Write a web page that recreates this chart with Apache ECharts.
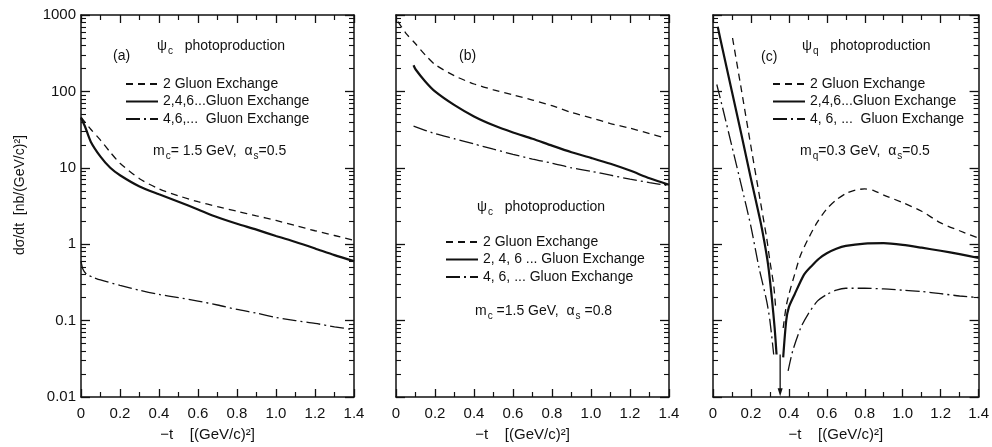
<!DOCTYPE html>
<html>
<head>
<meta charset="utf-8">
<script src="https://cdn.jsdelivr.net/npm/echarts@6/dist/echarts.min.js"></script>
<style>
  html, body { margin: 0; padding: 0; background: #fff; }
  #main { width: 992px; height: 447px; }
</style>
</head>
<body>
<div id="main"></div>
<script>
// values: [-t, dsigma/dt]
var aTwo = [[0,46],[0.05,32],[0.1,23],[0.15,16],[0.2,11.5],[0.3,7.2],[0.4,5.3],[0.5,4.3],[0.6,3.6],[0.7,3.1],[0.8,2.7],[0.9,2.35],[1.0,2.05],[1.1,1.75],[1.2,1.5],[1.3,1.3],[1.4,1.12]];
var aAll = [[0,45],[0.02,35],[0.05,22],[0.1,14],[0.15,10],[0.2,8],[0.3,5.7],[0.4,4.5],[0.5,3.6],[0.6,2.85],[0.7,2.25],[0.8,1.85],[0.9,1.55],[1.0,1.28],[1.1,1.07],[1.2,0.88],[1.3,0.72],[1.4,0.6]];
var aHigh = [[0,0.6],[0.01,0.47],[0.03,0.4],[0.06,0.37],[0.1,0.34],[0.2,0.29],[0.3,0.25],[0.4,0.22],[0.5,0.2],[0.6,0.18],[0.7,0.16],[0.8,0.14],[0.9,0.125],[1.0,0.11],[1.1,0.1],[1.2,0.092],[1.3,0.083],[1.4,0.076]];

var bTwo = [[0.01,820],[0.05,580],[0.1,420],[0.15,300],[0.2,225],[0.3,160],[0.4,125],[0.5,105],[0.6,90],[0.7,77],[0.8,65],[0.9,53],[1.0,45],[1.1,38],[1.2,33],[1.3,28],[1.37,25]];
var bAll = [[0.09,220],[0.1,195],[0.15,135],[0.2,100],[0.3,66],[0.4,47],[0.5,36],[0.6,29],[0.7,24],[0.8,19.5],[0.9,16],[1.0,13.5],[1.1,11.3],[1.2,9.2],[1.3,7.3],[1.4,6]];
var bHigh = [[0.09,35],[0.2,28],[0.3,24],[0.4,20.5],[0.5,17.5],[0.6,15],[0.7,13],[0.8,11.5],[0.9,10],[1.0,9],[1.1,8],[1.2,7.1],[1.3,6.4],[1.4,5.8]];

var cTwoLeft = [[0.103,500],[0.15,104],[0.2,19],[0.25,3.6],[0.283,1.2],[0.3,0.6],[0.32,0.29],[0.33,0.15]];
var cTwoRight = [[0.37,0.08],[0.385,0.15],[0.4,0.22],[0.43,0.4],[0.46,0.7],[0.5,1.15],[0.55,1.95],[0.6,2.9],[0.65,3.8],[0.7,4.6],[0.75,5.1],[0.8,5.3],[0.85,5.0],[0.9,4.4],[1.0,3.5],[1.1,2.7],[1.2,1.9],[1.3,1.5],[1.4,1.2]];
var cAllLeft = [[0.025,700],[0.05,362],[0.1,99],[0.15,27],[0.2,7.2],[0.25,2.0],[0.27,1.1],[0.29,0.55],[0.31,0.2],[0.325,0.08],[0.335,0.036]];
var cAllRight = [[0.37,0.033],[0.386,0.1],[0.4,0.15],[0.43,0.22],[0.48,0.4],[0.52,0.52],[0.56,0.65],[0.6,0.76],[0.65,0.87],[0.7,0.95],[0.8,1.02],[0.9,1.03],[1.0,0.98],[1.1,0.9],[1.2,0.82],[1.3,0.74],[1.4,0.66]];
var cHighLeft = [[0.02,123],[0.05,62],[0.1,19],[0.15,5.8],[0.2,1.7],[0.242,0.5],[0.283,0.18],[0.3,0.1],[0.32,0.036]];
var cHighRight = [[0.396,0.022],[0.42,0.04],[0.463,0.081],[0.5,0.12],[0.55,0.18],[0.6,0.22],[0.65,0.25],[0.7,0.265],[0.8,0.265],[0.9,0.26],[1.0,0.25],[1.1,0.24],[1.2,0.225],[1.3,0.21],[1.4,0.2]];
var cArrow = [[0.354,0.036],[0.354,0.0115]];

var decades = [0.01, 0.1, 1, 10, 100, 1000];
var minorVals = [];
decades.slice(0, 5).forEach(function(d){
  for (var k = 2; k <= 9; k++) minorVals.push(+(k * d).toPrecision(2));
});

var ink = '#111';
var font = 'Liberation Sans';
var panels = [{left: 81, width: 273}, {left: 396, width: 273}, {left: 713, width: 272}];

var grids = [], xAxes = [], yAxes = [];
panels.forEach(function(p, i){
  grids.push({left: p.left, top: 15, width: p.width, height: 385});
  var xBase = {
    type: 'value', gridIndex: i, min: 0, max: 1.4, interval: 0.2,
    axisLine: {lineStyle: {color: ink, width: 1.5}},
    axisTick: {inside: true, length: 8, lineStyle: {color: ink, width: 1.3}},
    minorTick: {show: true, splitNumber: 2, length: 5, lineStyle: {color: ink, width: 1.2}},
    splitLine: {show: false}
  };
  xAxes.push(Object.assign({}, xBase, {
    position: 'bottom',
    name: '−t    [(GeV/c)²]', nameLocation: 'middle', nameGap: 30,
    nameTextStyle: {color: ink, fontSize: 15, fontFamily: font, padding: [0, 20, 0, 0]},
    axisLabel: {color: ink, fontSize: 15, fontFamily: font, margin: 9,
      formatter: function(v){ return v === 0 ? '0' : v.toFixed(1); }}
  }));
  xAxes.push(Object.assign({}, xBase, {position: 'top', axisLabel: {show: false}}));

  var yBase = {
    type: 'log', logBase: 10, gridIndex: i, min: 0.01, max: 1000,
    axisLine: {show: true, lineStyle: {color: ink, width: 1.5}},
    axisTick: {inside: true, length: 9, lineStyle: {color: ink, width: 1.3}},
    axisLabel: {show: false},
    splitLine: {show: false}
  };
  var yMinor = Object.assign({}, yBase, {
    axisLine: {show: false},
    axisTick: {inside: true, length: 5, customValues: minorVals, lineStyle: {color: ink, width: 1.1}}
  });
  yAxes.push(Object.assign({}, yBase, {position: 'left',
    axisLabel: {show: i === 0, color: ink, fontSize: 15, fontFamily: font, margin: 5,
      formatter: function(v){ return String(+(+v).toPrecision(3)); }}}));
  yAxes.push(Object.assign({}, yMinor, {position: 'left'}));
  yAxes.push(Object.assign({}, yBase, {position: 'right'}));
  yAxes.push(Object.assign({}, yMinor, {position: 'right'}));
});

var styles = {
  two: {color: ink, width: 1.3, type: [7, 5]},
  all: {color: ink, width: 2.2, type: 'solid'},
  high: {color: ink, width: 1.3, type: [14, 4, 2, 4]}
};
function line(name, data, panel, kind){
  return {
    name: name, type: 'line', data: data,
    xAxisIndex: panel * 2, yAxisIndex: panel * 4,
    symbol: 'none', smooth: 0.25, silent: true,
    lineStyle: styles[kind], itemStyle: {color: ink}
  };
}
var n2 = '2 Gluon Exchange', nAll = '2,4,6...Gluon Exchange', nHigh = '4,6,...  Gluon Exchange';
var series = [
  line(n2, aTwo, 0, 'two'), line(nAll, aAll, 0, 'all'), line(nHigh, aHigh, 0, 'high'),
  line(n2, bTwo, 1, 'two'), line(nAll, bAll, 1, 'all'), line(nHigh, bHigh, 1, 'high'),
  line(n2, cTwoLeft, 2, 'two'), line(n2, cTwoRight, 2, 'two'),
  line(nAll, cAllLeft, 2, 'all'), line(nAll, cAllRight, 2, 'all'),
  line(nHigh, cHighLeft, 2, 'high'), line(nHigh, cHighRight, 2, 'high')
];
series.push({
  name: 'arrow', type: 'line', xAxisIndex: 4, yAxisIndex: 8, silent: true,
  data: [cArrow[0], {value: cArrow[1], symbol: 'triangle', symbolRotate: 180, symbolSize: [5, 8]}],
  symbol: 'none', showSymbol: true, lineStyle: {color: ink, width: 1.3}, itemStyle: {color: ink}
});

function legendAt(left, top, labels){
  return {
    left: left, top: top, orient: 'vertical', itemWidth: 32, itemHeight: 14, itemGap: 3.5,
    selectedMode: false, data: [n2, nAll, nHigh],
    itemStyle: {opacity: 0},
    textStyle: {color: ink, fontSize: 14, fontFamily: font},
    formatter: function(name){ return labels[[n2, nAll, nHigh].indexOf(name)]; }
  };
}

var rich = {
  t: {fontSize: 14, fontFamily: font, color: ink},
  s: {fontSize: 10, fontFamily: font, color: ink, padding: [9, 0, 0, 1]}
};
function note(left, top, text){
  return {left: left, top: top, text: text, textStyle: {rich: rich, fontWeight: 'normal'}};
}

var option = {
  backgroundColor: '#fff',
  animation: false,
  grid: grids,
  xAxis: xAxes,
  yAxis: yAxes,
  legend: [
    legendAt(120, 72, ['2 Gluon Exchange', '2,4,6...Gluon Exchange', '4,6,...  Gluon Exchange']),
    legendAt(440, 230, ['2 Gluon Exchange', '2, 4, 6 ... Gluon Exchange', '4, 6, ... Gluon Exchange']),
    legendAt(767, 72, ['2 Gluon Exchange', '2,4,6...Gluon Exchange', '4, 6, ...  Gluon Exchange'])
  ],
  title: [
    note(108, 44, '{t|(a)}'),
    note(152, 32, '{t|ψ}{s|c}{t|   photoproduction}'),
    note(148, 137, '{t|m}{s|c}{t|= 1.5 GeV,  α}{s|s}{t|=0.5}'),
    note(454, 44, '{t|(b)}'),
    note(472, 193, '{t|ψ}{s|c}{t|   photoproduction}'),
    note(470, 297, '{t|m}{s|c}{t| =1.5 GeV,  α}{s|s}{t| =0.8}'),
    note(756, 45, '{t|(c)}'),
    note(797, 32, '{t|ψ}{s|q}{t|   photoproduction}'),
    note(795, 137, '{t|m}{s|q}{t|=0.3 GeV,  α}{s|s}{t|=0.5}')
  ],
  graphic: [{
    type: 'text', x: 20, y: 195, rotation: Math.PI / 2,
    style: {text: 'dσ/dt  [nb/(GeV/c)²]', fill: ink, font: '14px "Liberation Sans"',
      align: 'center', verticalAlign: 'middle'}
  }],
  series: series
};

var myChart = echarts.init(document.getElementById('main'), null, {renderer: 'canvas'});
myChart.setOption(option);
</script>
</body>
</html>
